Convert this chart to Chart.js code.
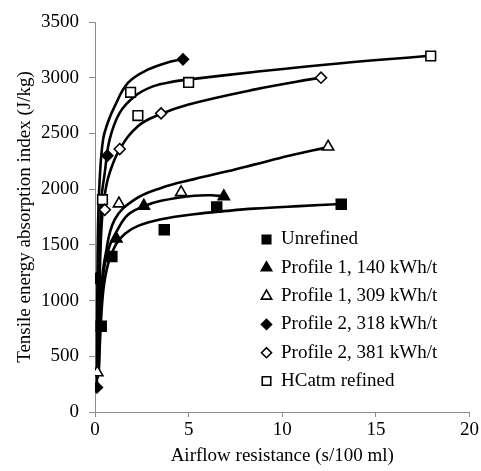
<!DOCTYPE html>
<html>
<head>
<meta charset="utf-8">
<script src="https://cdn.jsdelivr.net/npm/chart.js@4.4.1/dist/chart.umd.min.js"></script>
<style>
  html, body { margin: 0; padding: 0; background: #fff; }
  #wrap { width: 481px; height: 471px; }
</style>
</head>
<body>
<div id="wrap"><canvas id="c" width="481" height="471"></canvas></div>
<script>
// --- DATA ---
const xTicks = [0, 5, 10, 15, 20];
const yTicks = [0, 500, 1000, 1500, 2000, 2500, 3000, 3500];
const seriesNames = ['Unrefined', 'Profile 1, 140 kWh/t', 'Profile 1, 309 kWh/t',
                     'Profile 2, 318 kWh/t', 'Profile 2, 381 kWh/t', 'HCatm refined'];

// measured points [airflow resistance, TEA index]
const unrefinedPts = [[0.33, 770], [0.9, 1395], [3.7, 1635], [6.5, 1840], [13.15, 1865]];
const p1_140Pts = [[1.14, 1555], [2.61, 1850], [6.88, 1935]];
const p1_309Pts = [[0.12, 355], [1.28, 1870], [4.6, 1971], [12.45, 2380]];
const p2_318Pts = [[0.1, 220], [0.08, 1199], [0.66, 2300], [4.7, 3165]];
const p2_381Pts = [[0.52, 1815], [1.32, 2360], [3.53, 2680], [12.07, 3000]];
const hcatmPts = [[0.4, 1905], [1.9, 2869], [2.29, 2660], [5.0, 2958], [17.93, 3195]];

// trend curves
const unrefinedCurve = [[0.2, 350], [0.3, 750], [0.45, 1100], [0.7, 1330], [1.1, 1500], [1.6, 1600],
  [2.3, 1670], [3.53, 1730], [5.3, 1775], [7.07, 1805], [8.49, 1825], [10.9, 1848], [13.16, 1867]];
const p1_140Curve = [[0.2, 400], [0.3, 900], [0.48, 1280], [0.8, 1500], [1.15, 1620], [1.76, 1770],
  [2.64, 1848], [3.53, 1895], [5.3, 1940], [6.2, 1945], [6.85, 1935]];
const p1_309Curve = [[0.12, 355], [0.2, 800], [0.35, 1150], [0.55, 1400], [1.05, 1726], [2.11, 1906],
  [3.53, 2011], [5.3, 2090], [7.07, 2160], [8.49, 2220], [10.36, 2300], [12.43, 2377]];
const p2_318Curve = [[0.1, 220], [0.11, 700], [0.13, 1200], [0.17, 1730], [0.25, 2085], [0.43, 2444],
  [0.69, 2600], [1.05, 2743], [1.76, 2953], [2.82, 3072], [4.06, 3146], [4.7, 3165]];
const p2_381Curve = [[0.15, 300], [0.25, 1200], [0.37, 1726], [0.55, 1980], [0.78, 2145], [1.31, 2355],
  [2.29, 2564], [3.44, 2669], [4.95, 2758], [8.49, 2893], [12.07, 3003]];
const hcatmCurve = [[0.15, 350], [0.2, 900], [0.26, 1450], [0.34, 1906], [0.52, 2145], [0.78, 2444],
  [1.31, 2683], [2.11, 2832], [3.09, 2922], [4.24, 2967], [5.04, 2985], [8.49, 3051], [13.0, 3128], [17.93, 3197]];

// --- STYLE ---
const FONT = '"Liberation Serif", "Times New Roman", serif';
const AXIS = '#8c8c8c';
const markers = [
  { style: 'rect', filled: true, r: 7, lr: 6 },
  { style: 'triangle', filled: true, r: 6.5, lr: 6 },
  { style: 'triangle', filled: false, r: 6.5, lr: 6 },
  { style: 'rectRot', filled: true, r: 5.5, lr: 5 },
  { style: 'rectRot', filled: false, r: 5.5, lr: 5 },
  { style: 'rect', filled: false, r: 6.8, lr: 6 }
];
const pointSets = [unrefinedPts, p1_140Pts, p1_309Pts, p2_318Pts, p2_381Pts, hcatmPts];
const curveSets = [unrefinedCurve, p1_140Curve, p1_309Curve, p2_318Curve, p2_381Curve, hcatmCurve];

const toXY = arr => arr.map(p => ({ x: p[0], y: p[1] }));

const datasets = [];
pointSets.forEach((pts, i) => {
  const m = markers[i];
  datasets.push({
    label: seriesNames[i],
    data: toXY(pts),
    showLine: false,
    order: 0,
    pointStyle: m.style,
    pointRadius: m.r,
    pointHoverRadius: m.r,
    pointBackgroundColor: m.filled ? '#000' : '#fff',
    pointBorderColor: '#000',
    pointBorderWidth: 1.6
  });
});
curveSets.forEach((c, i) => {
  datasets.push({
    label: seriesNames[i] + ' trend',
    data: toXY(c),
    order: 1,
    borderColor: '#000',
    borderWidth: 2.6,
    pointRadius: 0,
    tension: 0.4,
    fill: false
  });
});

// legend drawn inside the plot, lower right
const insideLegend = {
  id: 'insideLegend',
  afterDraw(chart) {
    const ctx = chart.ctx;
    ctx.save();
    ctx.font = '19px ' + FONT;
    ctx.textBaseline = 'middle';
    ctx.textAlign = 'left';
    seriesNames.forEach((name, i) => {
      const m = markers[i];
      const y = 239.5 + i * 28.3;
      ctx.fillStyle = m.filled ? '#000' : '#fff';
      ctx.strokeStyle = '#000';
      ctx.lineWidth = 1.6;
      Chart.helpers.drawPoint(ctx, { pointStyle: m.style, radius: m.lr, rotation: 0, borderWidth: 1.6 }, 266.5, y);
      ctx.fillStyle = '#000';
      ctx.fillText(name, 281, y);
    });
    ctx.restore();
  }
};

new Chart(document.getElementById('c'), {
  type: 'line',
  data: { datasets: datasets },
  plugins: [insideLegend],
  options: {
    responsive: false,
    animation: false,
    devicePixelRatio: 1,
    layout: { padding: { top: 22, right: 8, left: 0, bottom: 0 } },
    plugins: { legend: { display: false }, tooltip: { enabled: false } },
    scales: {
      x: {
        type: 'linear',
        min: 0, max: 20,
        afterBuildTicks: s => { s.ticks = xTicks.map(v => ({ value: v })); },
        afterFit: s => { s.height = 59; },
        border: { display: true, color: AXIS, width: 1 },
        grid: { drawOnChartArea: false, drawTicks: true, tickLength: 5, color: AXIS },
        ticks: { color: '#000', padding: 2, maxRotation: 0, callback: v => String(v),
                 font: { family: FONT, size: 19 } },
        title: { display: true, text: 'Airflow resistance (s/100 ml)', color: '#000',
                 padding: { top: 0, bottom: 4 }, font: { family: FONT, size: 19 } }
      },
      y: {
        type: 'linear',
        min: 0, max: 3500,
        afterBuildTicks: s => { s.ticks = yTicks.map(v => ({ value: v })); },
        afterFit: s => { s.width = 95; },
        border: { display: true, color: AXIS, width: 1 },
        grid: { drawOnChartArea: false, drawTicks: true, tickLength: 6, color: AXIS },
        ticks: { color: '#000', padding: 10, callback: v => String(v),
                 font: { family: FONT, size: 19 } },
        title: { display: true, text: 'Tensile energy absorption index (J/kg)', color: '#000',
                 padding: { top: 13.6, bottom: 0 }, font: { family: FONT, size: 19 } }
      }
    }
  }
});
</script>
</body>
</html>
